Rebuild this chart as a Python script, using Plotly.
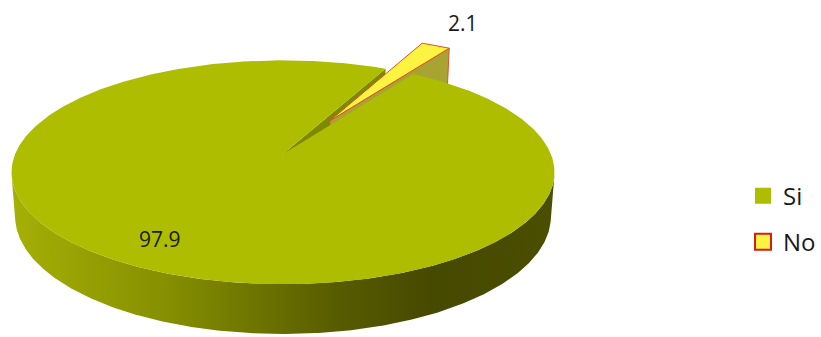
import numpy as np
import plotly.graph_objects as go

# ---- data ----
labels = ["Si", "No"]
values = [97.9, 2.1]
label_text = ["97.9", "2.1"]

# ---- style ----
top_colors = ["rgb(175,189,0)", "rgb(252,244,64)"]
radial_colors = ["rgb(126,136,0)", "rgb(168,164,52)"]
line_colors = ["rgba(0,0,0,0)", "rgb(222,80,40)"]
explode = [0.0, 0.37]
first_angle = 33.6  # degrees, clockwise from 12 o'clock

# projection (camera) parameters
W, H = 821, 337
cx, cy = 283.0, 154.0
elev = np.radians(24.0)
D = 5.6
F = 1500.0
thick = 0.18
se, ce = np.sin(elev), np.cos(elev)
cam = np.array([0.0, D * se, D * ce])


def proj(x, y, z):
    x = np.asarray(x, float); y = np.asarray(y, float); z = np.asarray(z, float)
    depth = D - (y * se + z * ce)
    v = y * ce - z * se
    return cx + F * x / depth, cy - F * v / depth


def circ(theta_deg, r=1.0, off=(0.0, 0.0)):
    t = np.radians(theta_deg)
    return off[0] + r * np.sin(t), off[1] - r * np.cos(t)


def facing(normal_dir_deg, px, py, pz):
    t = np.radians(normal_dir_deg)
    n = np.array([np.sin(t), 0.0, -np.cos(t)])
    return np.dot(n, cam - np.array([px, py, pz])) > 0


total = sum(values)
angles = []
a = first_angle
for v in values:
    span = 360.0 * v / total
    angles.append((a, a + span))
    a += span

fig = go.Figure()


def add_poly(xs, ys, color, line_color="rgba(0,0,0,0)", width=0, grad=None):
    kw = dict(x=list(xs) + [xs[0]], y=list(ys) + [ys[0]], mode="lines", fill="toself",
              fillcolor=color, line=dict(color=line_color, width=width),
              hoverinfo="skip", showlegend=False)
    if grad is not None:
        kw["fillgradient"] = grad
    fig.add_trace(go.Scatter(**kw))


side_grad = dict(type="horizontal",
                 colorscale=[[0, "rgb(166,176,6)"], [0.3, "rgb(132,142,0)"],
                             [0.6, "rgb(88,92,0)"], [0.78, "rgb(70,73,0)"],
                             [1, "rgb(74,78,0)"]],
                 start=10, stop=552)


def offset(i):
    a0, a1 = angles[i]
    mid = np.radians((a0 + a1) / 2)
    return (explode[i] * np.sin(mid), -explode[i] * np.cos(mid))


def draw_sides(i):
    a0, a1 = angles[i]
    off = offset(i)
    # outer side face (visible part only)
    th = np.linspace(a0, a1, max(int((a1 - a0) * 2), 4))
    vis = []
    for t in th:
        px, pz = circ(t, 1.0, off)
        vis.append(facing(t, px, -thick / 2, pz))
    vis = np.array(vis)
    if vis.any():
        idx = np.where(vis)[0]
        runs = np.split(idx, np.where(np.diff(idx) != 1)[0] + 1)
        for run in runs:
            tt = th[run]
            px, pz = circ(tt, 1.0, off)
            tx, ty = proj(px, np.zeros_like(px), pz)
            bx, by = proj(px, -thick * np.ones_like(px), pz)
            add_poly(np.r_[tx, bx[::-1]], np.r_[ty, by[::-1]], "rgb(110,118,0)",
                     grad=side_grad if i == 0 else None)
    # radial faces
    for ang, ndir in ((a0, a0 - 90), (a1, a1 + 90)):
        ox, oz = circ(ang, 1.0, off)
        mx, mz = circ(ang, 0.5, off)
        if facing(ndir, mx, -thick / 2, mz):
            xs3 = [off[0], ox, ox, off[0]]
            zs3 = [off[1], oz, oz, off[1]]
            ys3 = [0, 0, -thick, -thick]
            sx, sy = proj(xs3, ys3, zs3)
            add_poly(sx, sy, radial_colors[i], line_colors[i], 1 if i else 0)


def draw_top(i):
    a0, a1 = angles[i]
    off = offset(i)
    th = np.linspace(a0, a1, max(int((a1 - a0) * 2), 4))
    px, pz = circ(th, 1.0, off)
    xs = np.r_[off[0], px]
    zs = np.r_[off[1], pz]
    sx, sy = proj(xs, np.zeros_like(xs), zs)
    add_poly(sx, sy, top_colors[i], line_colors[i], 1 if i else 0)


order = [i for i in range(len(values)) if explode[i] == 0] + \
        [i for i in range(len(values)) if explode[i] != 0]
for i in order:
    draw_sides(i)
for i in order:
    draw_top(i)

# data labels
label_r = [0.8, 1.36]
label_shift = [(-3, 0), (-5, 0)]
for i, txt in enumerate(label_text):
    a0, a1 = angles[i]
    mid = np.radians((a0 + a1) / 2)
    R = explode[i] + label_r[i]
    lx, ly = proj(R * np.sin(mid), 0.0, -R * np.cos(mid))
    fig.add_annotation(x=float(lx), y=float(ly), text=txt, showarrow=False,
                       xshift=label_shift[i][0], yshift=label_shift[i][1],
                       font=dict(family="Open Sans", size=21, color="#1a1a1a"))

# legend entries
legend_line = ["rgb(175,189,0)", "rgb(210,30,20)"]
for i, lab in enumerate(labels):
    fig.add_trace(go.Scatter(x=[None], y=[None], mode="markers", name=lab,
                             legendgroup=lab,
                             marker=dict(symbol="square", size=16, color=top_colors[i],
                                         line=dict(color=legend_line[i], width=2 if i else 0))))

fig.update_layout(
    width=W, height=H, margin=dict(l=0, r=0, t=0, b=0),
    paper_bgcolor="white", plot_bgcolor="white",
    xaxis=dict(range=[0, W], visible=False, fixedrange=True),
    yaxis=dict(range=[H, 0], visible=False, fixedrange=True),
    showlegend=True,
    legend=dict(x=743 / W, xanchor="left", y=0.35, yanchor="middle",
                font=dict(family="Open Sans", size=24, color="#1a1a1a"),
                tracegroupgap=12, bgcolor="rgba(0,0,0,0)", itemclick=False),
)

fig.write_html("out.html")
